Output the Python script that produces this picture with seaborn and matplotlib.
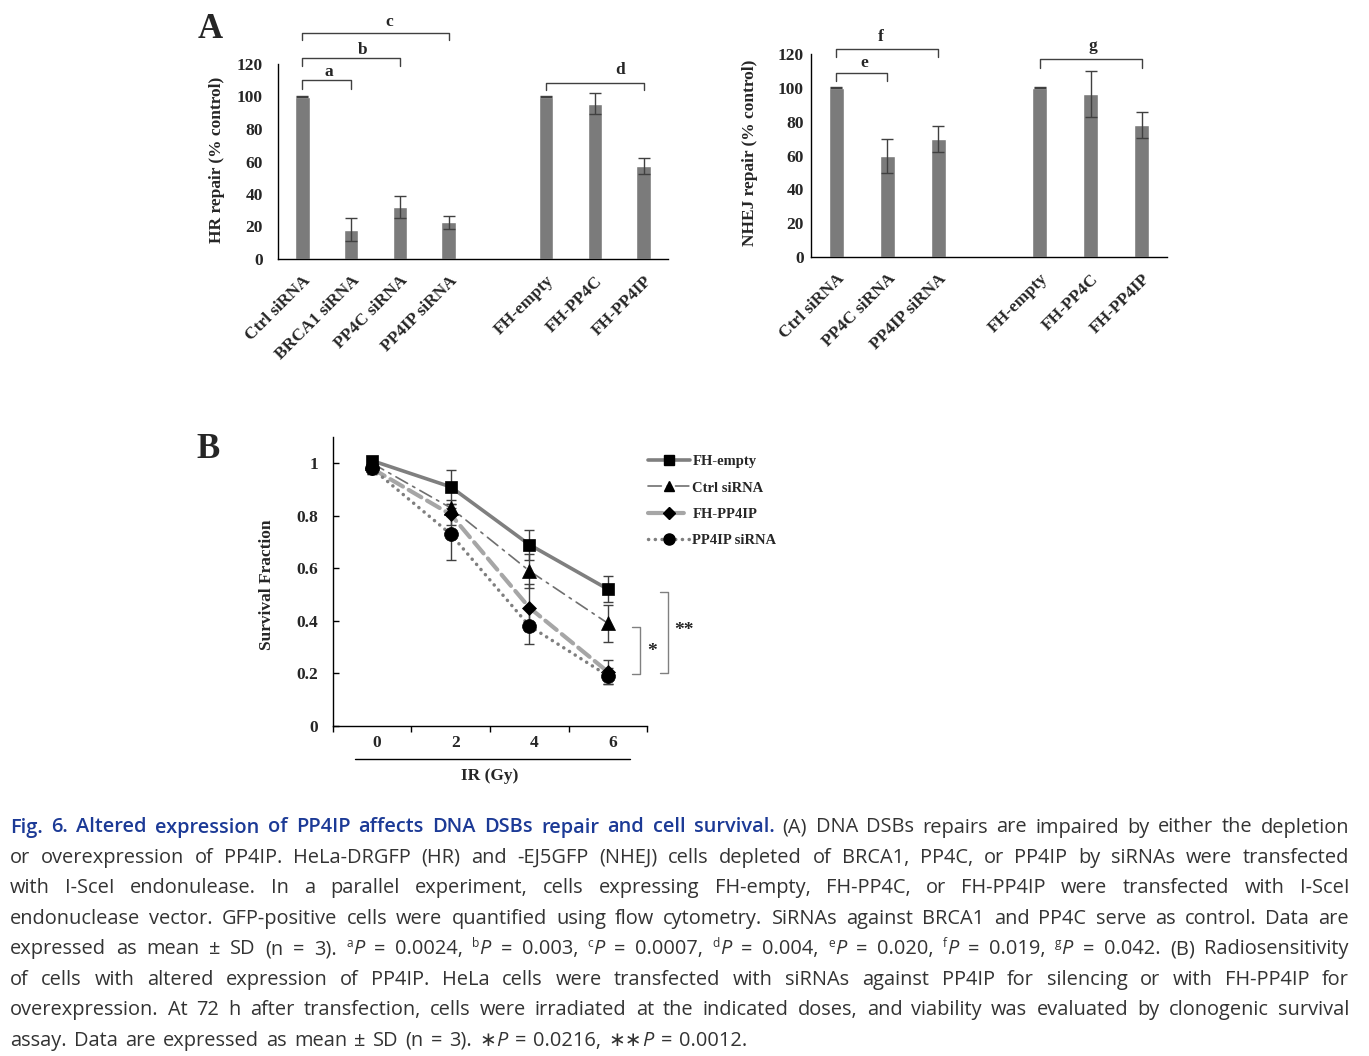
import matplotlib
matplotlib.use('Agg')
import matplotlib.pyplot as plt
from matplotlib.lines import Line2D
from matplotlib.transforms import ScaledTranslation
import numpy as np
import pandas as pd
import seaborn as sns

# ---- Panel A data (HR / NHEJ repair, % control) ----
hr_groups = ['Ctrl siRNA', 'BRCA1 siRNA', 'PP4C siRNA', 'PP4IP siRNA', 'FH-empty', 'FH-PP4C', 'FH-PP4IP']
hr_values = [100, 18, 32, 22.5, 100, 95.5, 57.5]
hr_errors = [0.3, 7, 7, 3.8, 0.3, 6.4, 4.9]
hr_order = ['Ctrl siRNA', 'BRCA1 siRNA', 'PP4C siRNA', 'PP4IP siRNA', ' ', 'FH-empty', 'FH-PP4C', 'FH-PP4IP']

nhej_groups = ['Ctrl siRNA', 'PP4C siRNA', 'PP4IP siRNA', 'FH-empty', 'FH-PP4C', 'FH-PP4IP']
nhej_values = [100, 59.5, 70, 100, 96.5, 78]
nhej_errors = [0.3, 10, 7.7, 0.3, 13.5, 7.8]
nhej_order = ['Ctrl siRNA', 'PP4C siRNA', 'PP4IP siRNA', ' ', 'FH-empty', 'FH-PP4C', 'FH-PP4IP']

# brackets: (from, to, height, leg drop, letter, letter x, letter y)
hr_brackets = [(0, 1, 110, 5.5, 'a', 0.55, 115.3),
               (0, 2, 124, 5, 'b', 1.23, 128.6),
               (0, 3, 139, 4.5, 'c', 1.78, 145.8),
               (5, 7, 108.5, 4.5, 'd', 6.52, 116.5)]
nhej_brackets = [(0, 1, 108.9, 4.7, 'e', 0.55, 114.5),
                 (0, 2, 122.7, 4.7, 'f', 0.88, 130.2),
                 (4, 6, 116.8, 4.8, 'g', 5.05, 124.7)]

# ---- Panel B data (survival fraction) ----
doses = ['0', '2', '4', '6']
fh_empty = [1.01, 0.91, 0.69, 0.52]
fh_empty_sd = [0.01, 0.064, 0.057, 0.05]
ctrl_sirna = [1.0, 0.83, 0.59, 0.39]
ctrl_sirna_sd = [0.01, 0.03, 0.065, 0.07]
fh_pp4ip = [0.98, 0.805, 0.45, 0.205]
fh_pp4ip_sd = [0.02, 0.04, 0.09, 0.045]
pp4ip_sirna = [0.98, 0.73, 0.38, 0.19]
pp4ip_sirna_sd = [0.02, 0.1, 0.07, 0.03]
yticks_b = ['0', '0.2', '0.4', '0.6', '0.8', '1']

# (x, low, high, label, label x, label y)
sig_brackets = [(3.41, 0.196, 0.375, '*', 3.56, 0.283),
                (3.76, 0.200, 0.508, '**', 3.97, 0.363)]

# ---- caption ----
caption_lines = [
    [('Fig. 6. Altered expression of PP4IP affects DNA DSBs repair and cell survival.', 'title'),
     (' (A) DNA DSBs repairs are impaired by either the depletion', 'n')],
    [('or overexpression of PP4IP. HeLa-DRGFP (HR) and -EJ5GFP (NHEJ) cells depleted of BRCA1, PP4C, or PP4IP by siRNAs were transfected', 'n')],
    [('with I-SceI endonulease. In a parallel experiment, cells expressing FH-empty, FH-PP4C, or FH-PP4IP were transfected with I-SceI', 'n')],
    [('endonuclease vector. GFP-positive cells were quantified using flow cytometry. SiRNAs against BRCA1 and PP4C serve as control. Data are', 'n')],
    [('expressed as mean \u00b1 SD (n = 3). ', 'n'), ('a', 'sup'), ('P', 'i'), (' = 0.0024, ', 'n'),
     ('b', 'sup'), ('P', 'i'), (' = 0.003, ', 'n'), ('c', 'sup'), ('P', 'i'), (' = 0.0007, ', 'n'),
     ('d', 'sup'), ('P', 'i'), (' = 0.004, ', 'n'), ('e', 'sup'), ('P', 'i'), (' = 0.020, ', 'n'),
     ('f', 'sup'), ('P', 'i'), (' = 0.019, ', 'n'), ('g', 'sup'), ('P', 'i'), (' = 0.042. (B) Radiosensitivity', 'n')],
    [('of cells with altered expression of PP4IP. HeLa cells were transfected with siRNAs against PP4IP for silencing or with FH-PP4IP for', 'n')],
    [('overexpression. At 72 h after transfection, cells were irradiated at the indicated doses, and viability was evaluated by clonogenic survival', 'n')],
    [('assay. Data are expressed as mean \u00b1 SD (n = 3). \u2217', 'n'), ('P', 'i'), (' = 0.0216, \u2217\u2217', 'n'),
     ('P', 'i'), (' = 0.0012.', 'n')],
]

W, H = 1369, 1056
sns.set_theme(style='white')
plt.rcParams['font.family'] = 'serif'
plt.rcParams['font.serif'] = ['Liberation Serif', 'DejaVu Serif']
plt.rcParams['font.weight'] = 'bold'
plt.rcParams['axes.labelweight'] = 'bold'

fig = plt.figure(figsize=(W / 100, H / 100), dpi=100)


def box(l, t, r, b):
    return [l / W, 1 - b / H, (r - l) / W, (b - t) / H]


def bar_panel(ax, groups, values, errors, order, brackets, ylabel, ypad):
    df = pd.DataFrame({'group': groups, 'value': values})
    sns.barplot(data=df, x='group', y='value', order=order, color='#7b7b7b',
                saturation=1, width=0.3, errorbar=None, ax=ax)
    xpos = [order.index(g) for g in groups]
    ax.errorbar(xpos, values, yerr=errors, fmt='none', ecolor='#404040',
                elinewidth=1, capsize=4, capthick=1)
    ax.set_xlim(-0.5, len(order) - 0.5)
    ax.set_ylim(0, 120)
    ax.set_yticks(range(0, 121, 20))
    ax.set_xticks(range(len(order)))
    ax.set_xticklabels(order, rotation=45, ha='right', va='top', rotation_mode='anchor')
    ax.tick_params(axis='both', length=0, labelsize=12.5)
    ax.tick_params(axis='y', pad=ypad)
    ax.tick_params(axis='x', pad=10)
    ax.set_xlabel('')
    ax.set_ylabel(ylabel, fontsize=12.5, fontweight='bold')
    for lab in ax.get_xticklabels() + ax.get_yticklabels():
        lab.set_fontweight('bold')
    sns.despine(ax=ax)
    for s in ['left', 'bottom']:
        ax.spines[s].set_color('black')
        ax.spines[s].set_linewidth(1)
    for i0, i1, yt, drop, lab, lx, ly in brackets:
        ax.plot([i0, i0, i1, i1], [yt - drop, yt, yt, yt - drop], color='#404040',
                lw=1, clip_on=False)
        ax.text(lx, ly, lab, ha='center', va='center', fontsize=12.5,
                fontweight='bold', clip_on=False)


# panel A left
ax1 = fig.add_axes(box(278, 64, 668, 259))
bar_panel(ax1, hr_groups, hr_values, hr_errors, hr_order, hr_brackets,
          'HR repair (% control)', 11)
ax1.yaxis.set_label_coords(-0.137, 0.508)

# panel A right
ax2 = fig.add_axes(box(811, 54, 1167, 257))
bar_panel(ax2, nhej_groups, nhej_values, nhej_errors, nhej_order, nhej_brackets,
          'NHEJ repair (% control)', 5)
ax2.yaxis.set_label_coords(-0.148, 0.512)

fig.text(210 / W, 1 - 30 / H, 'A', fontsize=25, fontweight='bold', ha='center', va='center')
fig.text(208 / W, 1 - 449 / H, 'B', fontsize=25, fontweight='bold', ha='center', va='center')

# panel B
ax3 = fig.add_axes(box(332.7, 437, 647.3, 725.7))
xs = np.arange(len(doses))
series = [('FH-empty', fh_empty, fh_empty_sd),
          ('Ctrl siRNA', ctrl_sirna, ctrl_sirna_sd),
          ('FH-PP4IP', fh_pp4ip, fh_pp4ip_sd),
          ('PP4IP siRNA', pp4ip_sirna, pp4ip_sirna_sd)]
styles = {
    'FH-empty': dict(color='#7f7f7f', lw=2.6, ls='-', marker='s', ms=9),
    'Ctrl siRNA': dict(color='#6f6f6f', lw=1.2, ls=(0, (8, 3.5, 1.5, 3.5)), marker='^', ms=9.5),
    'FH-PP4IP': dict(color='#a6a6a6', lw=3, ls=(0, (3.5, 1.6)), marker='D', ms=7.5),
    'PP4IP siRNA': dict(color='#7f7f7f', lw=2.5, ls=(0, (0.05, 1.9)), marker='o', ms=10),
}
for k, (name, vals, sd) in enumerate(series):
    st = styles[name]
    ax3.errorbar(xs, vals, yerr=sd, fmt='none', ecolor='#404040', elinewidth=1,
                 capsize=3.5, capthick=1, zorder=2)
    sns.lineplot(x=xs, y=vals, ax=ax3, color=st['color'], linewidth=st['lw'],
                 linestyle=st['ls'], dash_capstyle='round', marker=st['marker'],
                 markersize=st['ms'], markerfacecolor='black', markeredgecolor='black',
                 markeredgewidth=0.5, zorder=3 + k)
ax3.set_xlim(-0.5, len(doses) - 0.5)
ax3.set_ylim(0, 1.1)
ax3.set_yticks(np.arange(0, 1.01, 0.2))
ax3.set_yticklabels(yticks_b)
ax3.set_xticks(xs)
ax3.set_xticklabels(doses)
ax3.set_xticks(np.arange(-0.5, len(doses), 1), minor=True)
ax3.tick_params(axis='y', direction='in', length=4, width=1, color='black', pad=10.5,
                labelsize=12.5, left=True)
ax3.tick_params(axis='x', which='major', length=0, pad=7, labelsize=12.5)
ax3.tick_params(axis='x', which='minor', direction='out', length=4, width=1,
                color='black', bottom=True)
for lab in ax3.get_xticklabels():
    lab.set_transform(lab.get_transform() + ScaledTranslation(0.05, 0, fig.dpi_scale_trans))
for lab in ax3.get_xticklabels() + ax3.get_yticklabels():
    lab.set_fontweight('bold')
sns.despine(ax=ax3)
for s in ['left', 'bottom']:
    ax3.spines[s].set_color('black')
    ax3.spines[s].set_linewidth(1)
ax3.set_ylabel('Survival Fraction', fontsize=12.5, fontweight='bold')
ax3.yaxis.set_label_coords(-0.184, 0.489)
ax3.set_xlabel('IR (Gy)', fontsize=12.5, fontweight='bold')
ax3.xaxis.set_label_coords(0.5, -0.147)
ax3.plot([0.071, 0.945], [-0.117, -0.117], transform=ax3.transAxes, color='black',
         lw=1, clip_on=False)
for x, lo, hi, lab, lx, ly in sig_brackets:
    ax3.plot([x - 0.1, x, x, x - 0.1], [lo, lo, hi, hi], color='#808080', lw=1, clip_on=False)
    ax3.text(lx, ly, lab, ha='center', va='center', fontsize=14, fontweight='bold',
             clip_on=False)

handles = []
for name, _, _ in series:
    st = styles[name]
    handles.append(Line2D([], [], color=st['color'], lw=st['lw'], ls=st['ls'],
                          dash_capstyle='round', marker=st['marker'],
                          markersize=st['ms'] * 0.8, markerfacecolor='black',
                          markeredgecolor='black', label=name))
fig.legend(handles=handles, loc='upper left', bbox_to_anchor=(648 / W, 1 - 455 / H),
           frameon=False, handlelength=2.9, handletextpad=0.15,
           labelspacing=0.9, borderpad=0, borderaxespad=0,
           prop={'family': 'serif', 'weight': 'bold', 'size': 10.5})

# ---- caption, justified word by word ----
cap_size = 14.4
sans = ['Open Sans', 'Noto Sans', 'DejaVu Sans']
fonts = {
    'title': dict(color='#1c3a96', fontweight='semibold', fontsize=cap_size, family=sans),
    'n': dict(color='#333333', fontweight='normal', fontsize=cap_size, family=sans),
    'i': dict(color='#333333', fontweight='normal', fontsize=cap_size, style='italic',
              family=sans),
    'sup': dict(color='#333333', fontweight='normal', fontsize=cap_size * 0.6, family=sans),
}
renderer = fig.canvas.get_renderer()
x_left, x_right = 10, 1349
for li, runs in enumerate(caption_lines):
    words = [[]]
    for text, kind in runs:
        parts = text.split(' ')
        for i, p in enumerate(parts):
            if i > 0:
                words.append([])
            if p:
                words[-1].append((p, kind))
    words = [w for w in words if w]
    base = 1 - (826 + 30.45 * li + 6.5) / H
    objs = []
    widths = []
    for w in words:
        wo = []
        ww = 0
        for text, kind in w:
            t = fig.text(0, base, text, va='baseline', ha='left', **fonts[kind])
            bw = t.get_window_extent(renderer).width
            wo.append((t, kind, bw))
            ww += bw
        objs.append(wo)
        widths.append(ww)
    if li < len(caption_lines) - 1:
        gap = (x_right - x_left - sum(widths)) / (len(words) - 1)
    else:
        gap = cap_size * 100 / 72 * 0.36
    x = x_left
    for wo, ww in zip(objs, widths):
        for t, kind, bw in wo:
            y = base + (7.5 / H if kind == 'sup' else 0)
            t.set_position((x / W, y))
            x += bw
        x += gap

fig.savefig('out.png', dpi=100)
